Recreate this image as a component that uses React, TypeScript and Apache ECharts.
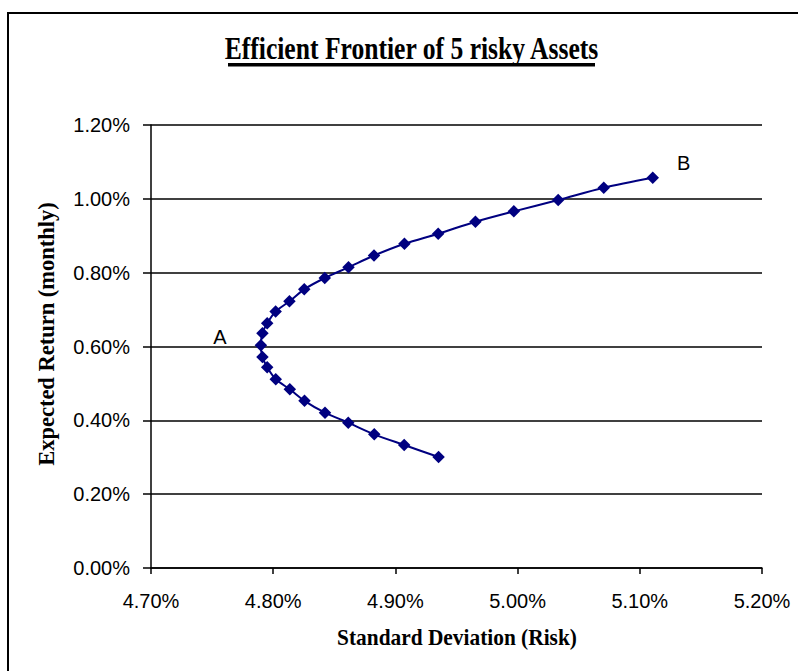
import React, { useEffect, useRef } from "react";
import * as echarts from "echarts";

// Standard deviation (%) and expected monthly return (%) along the frontier, from B down to the lower end
const stdDev = [
  5.1106, 5.0705, 5.0332, 4.9969, 4.9655, 4.935, 4.9074, 4.8825, 4.8616, 4.8422,
  4.8254, 4.8133, 4.802, 4.7951, 4.7912, 4.7899, 4.7912, 4.7951, 4.8021, 4.8136,
  4.8256, 4.8424, 4.8614, 4.8827, 4.9072, 4.9353,
];
const expReturn = [
  1.0571, 1.0301, 0.9967, 0.9661, 0.938, 0.9055, 0.8784, 0.8464, 0.8145, 0.7855,
  0.7549, 0.7224, 0.6947, 0.6628, 0.6357, 0.6032, 0.5715, 0.5436, 0.5111, 0.484,
  0.4529, 0.4206, 0.3936, 0.3621, 0.3332, 0.3006,
];
const pointLabels: Record<number, string> = { 0: "B", 15: "A" };

const titleText = "Efficient Frontier of 5 risky Assets";
const xTitle = "Standard Deviation (Risk)";
const yTitle = "Expected Return (monthly)";

export default function App() {
  const ref = useRef<HTMLDivElement>(null);
  useEffect(() => {
    if (!ref.current) return;
    const chart = echarts.init(ref.current, null, { renderer: "svg" });
    const navy = "#000080";
    const data = stdDev.map((x, i) => {
      const item: any = { value: [x, expReturn[i]] };
      const lab = pointLabels[i];
      if (lab === "A") {
        item.label = {
          show: true,
          formatter: "A",
          position: "left",
          distance: 28,
          offset: [0, -8],
          fontSize: 20,
          fontFamily: "Liberation Sans",
          color: "#000",
        };
      } else if (lab === "B") {
        item.label = {
          show: true,
          formatter: "B",
          position: "right",
          distance: 18,
          offset: [0, -15],
          fontSize: 20,
          fontFamily: "Liberation Sans",
          color: "#000",
        };
      }
      return item;
    });
    chart.setOption({
      animation: false,
      backgroundColor: "#fff",
      graphic: [
        {
          type: "rect",
          shape: { x: 8, y: 13, width: 800, height: 670 },
          style: { fill: "none", stroke: "#000", lineWidth: 2 },
          silent: true,
        },
        {
          type: "text",
          x: 411.5,
          y: 48,
          scaleX: 0.8,
          style: {
            text: titleText,
            x: 0,
            y: 0,
            align: "center",
            verticalAlign: "middle",
            font: 'bold 32px "Liberation Serif"',
            fill: "#000",
          },
        },
        {
          type: "rect",
          shape: { x: 228, y: 63, width: 367, height: 3.5 },
          style: { fill: "#000" },
          silent: true,
        },
        {
          type: "text",
          x: 46,
          y: 334,
          rotation: Math.PI / 2,
          style: {
            text: yTitle,
            x: 0,
            y: 0,
            align: "center",
            verticalAlign: "middle",
            font: 'bold 22.5px "Liberation Serif"',
            fill: "#000",
          },
        },
        {
          type: "text",
          x: 457,
          y: 637,
          scaleX: 0.93,
          style: {
            text: xTitle,
            x: 0,
            y: 0,
            align: "center",
            verticalAlign: "middle",
            font: 'bold 23px "Liberation Serif"',
            fill: "#000",
          },
        },
      ],
      grid: { left: 151, right: 36, top: 125, bottom: 103, containLabel: false },
      xAxis: {
        type: "value",
        min: 4.7,
        max: 5.2,
        interval: 0.1,
        axisLine: { show: true, onZero: false, lineStyle: { color: "#000", width: 1.5 } },
        axisTick: { show: true, inside: false, length: 6, lineStyle: { color: "#000", width: 1.5 } },
        splitLine: { show: false },
        axisLabel: {
          margin: 23,
          fontSize: 20,
          fontFamily: "Liberation Sans",
          color: "#000",
          formatter: (v: number) => v.toFixed(2) + "%",
        },
      },
      yAxis: {
        type: "value",
        min: 0,
        max: 1.2,
        interval: 0.2,
        axisLine: { show: true, lineStyle: { color: "#000", width: 1.5 } },
        axisTick: { show: true, inside: false, length: 8, lineStyle: { color: "#000", width: 1.5 } },
        splitLine: { show: true, lineStyle: { color: "#000", width: 1.5 } },
        axisLabel: {
          margin: 21,
          fontSize: 20,
          fontFamily: "Liberation Sans",
          color: "#000",
          formatter: (v: number) => v.toFixed(2) + "%",
        },
      },
      series: [
        {
          type: "line",
          data,
          smooth: 0.3,
          symbol: "diamond",
          symbolSize: 12.5,
          showAllSymbol: true,
          itemStyle: { color: navy },
          lineStyle: { color: navy, width: 2 },
          z: 5,
        },
      ],
    });
    return () => chart.dispose();
  }, []);
  return (
    <div
      ref={ref}
      style={{ position: "fixed", left: 0, top: 0, width: 798, height: 671 }}
    />
  );
}
